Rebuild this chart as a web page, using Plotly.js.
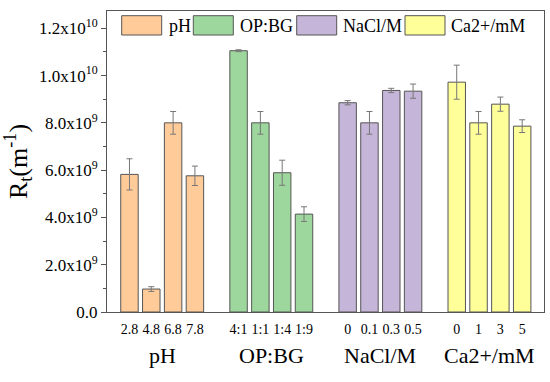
<!DOCTYPE html>
<html><head><meta charset="utf-8">
<script src="https://cdn.plot.ly/plotly-3.0.1.min.js"></script>
<style>
html,body{margin:0;padding:0;background:#fff}#chart{width:550px;height:382px}
</style>
</head><body><div id="chart"></div>
<script>
const groups = ["pH", "OP:BG", "NaCl/M", "Ca2+/mM"];
const tickLabels = [
  ["2.8", "4.8", "6.8", "7.8"],
  ["4:1", "1:1", "1:4", "1:9"],
  ["0", "0.1", "0.3", "0.5"],
  ["0", "1", "3", "5"]
];
const pHValues = [5.82e9, 0.97e9, 8.0e9, 5.76e9];
const pHErrors = [0.66e9, 0.1e9, 0.48e9, 0.41e9];
const opbgValues = [1.105e10, 8.0e9, 5.89e9, 4.14e9];
const opbgErrors = [0.04e9, 0.48e9, 0.53e9, 0.31e9];
const naclValues = [8.85e9, 8.0e9, 9.37e9, 9.34e9];
const naclErrors = [0.09e9, 0.48e9, 0.09e9, 0.30e9];
const caValues = [9.72e9, 8.0e9, 8.79e9, 7.86e9];
const caErrors = [0.72e9, 0.48e9, 0.30e9, 0.27e9];
const yTickVals = [0, 2e9, 4e9, 6e9, 8e9, 1e10, 1.2e10];
const yTickText = ["0.0", "2.0x10<sup>9</sup>", "4.0x10<sup>9</sup>", "6.0x10<sup>9</sup>", "8.0x10<sup>9</sup>", "1.0x10<sup>10</sup>", "1.2x10<sup>10</sup>"];
const yMinorVals = [1e9, 3e9, 5e9, 7e9, 9e9, 1.1e10];

const colors = ["#FFCC99", "#9ED79E", "#C5B5D8", "#FFFF99"];
const values = [pHValues, opbgValues, naclValues, caValues];
const errors = [pHErrors, opbgErrors, naclErrors, caErrors];

const traces = [];
const tickvals = [], ticktext = [];
groups.forEach((g, gi) => {
  const xs = tickLabels[gi].map((_, i) => gi * 5 + i);
  xs.forEach((x, i) => { tickvals.push(x); ticktext.push(tickLabels[gi][i]); });
  traces.push({
    type: "bar", name: g, x: xs, y: values[gi], width: 0.8,
    marker: {color: colors[gi], line: {color: "#555555", width: 1}},
    error_y: {type: "data", array: errors[gi], visible: true, color: "#777777", thickness: 1, width: 3},
    showlegend: false, hoverinfo: "skip"
  });
});

const serif = "Liberation Serif, Times New Roman, serif";
const shapes = [], annotations = [];
const legX = [[121.7, 166.7], [193.3, 238.3], [296.7, 340.7], [405, 449.3]];
const plotL = 107, plotR = 544, plotT = 11, plotB = 312;
const px = v => (v - plotL) / (plotR - plotL);
const py = v => (plotB - v) / (plotB - plotT);
groups.forEach((g, gi) => {
  shapes.push({type: "rect", xref: "paper", yref: "paper",
    x0: px(legX[gi][0]), x1: px(legX[gi][0] + 40), y0: py(35), y1: py(15.7),
    fillcolor: colors[gi], line: {color: "#555555", width: 1}});
  annotations.push({xref: "paper", yref: "paper", x: px(legX[gi][1]), y: py(25.5),
    xanchor: "left", yanchor: "middle", text: g, showarrow: false,
    font: {family: serif, size: 18, color: "#000"}});
  annotations.push({xref: "x", yref: "paper", x: gi * 5 + 1.5, y: py(355),
    xanchor: "center", yanchor: "middle", text: g, showarrow: false,
    font: {family: serif, size: 22, color: "#000"}});
});

const layout = {
  width: 550, height: 382,
  margin: {l: 107, r: 6, t: 11, b: 70},
  paper_bgcolor: "#fff", plot_bgcolor: "#fff",
  font: {family: serif, color: "#000"},
  bargap: 0,
  xaxis: {
    range: [-1.03, 19.0], tickmode: "array", tickvals: tickvals, ticktext: ticktext,
    tickangle: 0,
    ticks: "", showgrid: false, zeroline: false, showline: true, mirror: true,
    linecolor: "#555555", linewidth: 1, tickfont: {family: serif, size: 14, color: "#000"},
    ticklabelstandoff: 4
  },
  yaxis: {
    range: [0, 1.273e10], tickmode: "array", tickvals: yTickVals, ticktext: yTickText,
    ticks: "outside", ticklen: 5, tickcolor: "#555555", tickwidth: 1,
    minor: {tickvals: yMinorVals, ticks: "outside", ticklen: 3, tickcolor: "#555555", tickwidth: 1},
    showgrid: false, zeroline: false, showline: true, mirror: true,
    linecolor: "#555555", linewidth: 1,
    tickfont: {family: serif, size: 17, color: "#000"},
    title: {text: "R<sub>t</sub>(m<sup>-1</sup>)", font: {family: serif, size: 26, color: "#000"}, standoff: 8}
  },
  shapes: shapes, annotations: annotations
};
Plotly.newPlot("chart", traces, layout, {displayModeBar: false, staticPlot: true});
</script></body></html>
